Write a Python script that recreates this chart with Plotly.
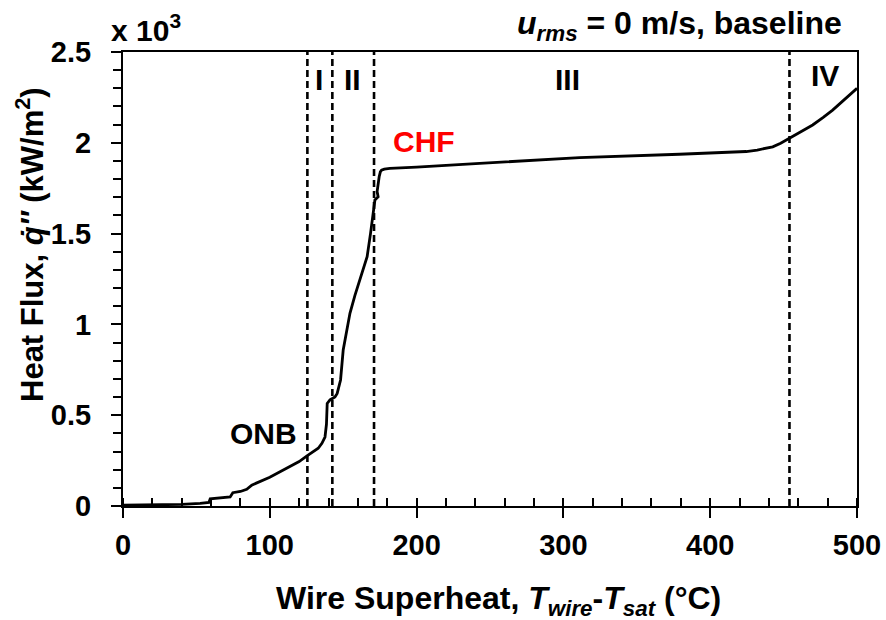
import plotly.graph_objects as go

# Boiling curve: wire superheat (°C) vs heat flux (x10^3 kW/m^2)
superheat = [0, 20, 40, 52.6, 58.5, 59.4, 66, 73, 74.8, 80, 84.3, 87.7,
             100, 110, 120, 125.1, 129, 133, 135.5, 137.6, 138.6, 139.1, 141,
             144.4, 145.9, 148.2, 150, 152.3, 154.6, 158, 161.4, 164, 166.3,
             168.6, 170, 170.9, 171.6, 173.8, 173.1, 174.5, 175.3, 176.1, 178,
             181.8, 200, 243, 311, 379, 400, 415, 424.5, 432, 438, 442.6, 448,
             454, 462, 469.8, 477, 483.4, 491, 500]
heat_flux = [0.004, 0.006, 0.009, 0.015, 0.02, 0.04, 0.045, 0.05, 0.073, 0.08,
             0.092, 0.115, 0.158, 0.2, 0.245, 0.275, 0.295, 0.318, 0.345, 0.38,
             0.45, 0.565, 0.584, 0.6, 0.62, 0.694, 0.859, 0.951, 1.061, 1.16,
             1.245, 1.31, 1.373, 1.5, 1.593, 1.648, 1.685, 1.703, 1.731, 1.813,
             1.84, 1.849, 1.855, 1.859, 1.866, 1.887, 1.918, 1.937, 1.942,
             1.947, 1.952, 1.96, 1.969, 1.978, 1.998, 2.025, 2.06, 2.098, 2.14,
             2.18, 2.235, 2.3]

# Regime boundaries (°C) and regime labels
boundaries = [125.6, 142.6, 171.0, 454.0]
regime_labels = ["I", "II", "III", "IV"]
regime_x = [133.6, 156.0, 303.0, 478.5]
regime_y = [2.346, 2.346, 2.346, 2.373]

x_ticks = [0, 100, 200, 300, 400, 500]
y_ticks = [0, 0.5, 1, 1.5, 2, 2.5]
y_tick_text = ["0", "0.5", "1", "1.5", "2", "2.5"]

FONT = "Liberation Sans, Arial, sans-serif"
BLACK = "#000000"

# plot-area geometry in pixels, used to place the free-standing labels
L, R, T, B = 123, 857, 52, 506


def px_x(p):
    return (p - L) / (R - L)


def px_y(p):
    return (B - p) / (B - T)


fig = go.Figure()

fig.add_trace(go.Scatter(
    x=superheat, y=heat_flux, mode="lines",
    line=dict(color=BLACK, width=2.8),
    showlegend=False, hoverinfo="skip",
))

for xb in boundaries:
    fig.add_shape(type="line", xref="x", yref="paper", x0=xb, x1=xb, y0=0, y1=1,
                  line=dict(color=BLACK, width=2.6, dash="7px,4px"), layer="above")

annotations = []
for lab, lx, ly in zip(regime_labels, regime_x, regime_y):
    annotations.append(dict(x=lx, y=ly, xref="x", yref="y", text=f"<b>{lab}</b>",
                            showarrow=False, font=dict(size=30, color=BLACK, family=FONT)))

annotations += [
    dict(x=205, y=2.006, xref="x", yref="y", text="<b>CHF</b>", showarrow=False,
         font=dict(size=30, color="#ff0000", family=FONT)),
    dict(x=96, y=0.40, xref="x", yref="y", text="<b>ONB</b>", showarrow=False,
         font=dict(size=30, color=BLACK, family=FONT)),
    dict(x=px_x(146), y=px_y(28), xref="paper", yref="paper",
         xanchor="center", yanchor="middle",
         text="<b>x 10<sup>3</sup></b>", showarrow=False,
         font=dict(size=30, color=BLACK, family=FONT)),
    dict(x=px_x(844), y=px_y(25), xref="paper", yref="paper",
         xanchor="right", yanchor="middle",
         text="<b><i>u<sub>rms</sub></i> = 0 m/s, baseline</b>",
         showarrow=False, font=dict(size=32, color=BLACK, family=FONT)),
    dict(x=px_x(498), y=px_y(600), xref="paper", yref="paper",
         xanchor="center", yanchor="middle",
         text="<b>Wire Superheat, <i>T<sub>wire</sub></i>-<i>T<sub>sat</sub></i> (°C)</b>",
         showarrow=False, font=dict(size=32, color=BLACK, family=FONT)),
    dict(x=px_x(30), y=px_y(245), xref="paper", yref="paper",
         xanchor="center", yanchor="middle", textangle=-90,
         text="<b>Heat Flux, <i>q\u0307\u2032\u2032</i> (kW/m<sup>2</sup>)</b>",
         showarrow=False, font=dict(size=31, color=BLACK, family=FONT)),
]

tick_style = dict(size=29, family=FONT, color=BLACK, weight="bold")

fig.update_layout(
    width=886, height=620,
    margin=dict(l=L, r=886 - R, t=T, b=620 - B, autoexpand=False),
    paper_bgcolor="white", plot_bgcolor="white",
    font=dict(family=FONT, color=BLACK),
    annotations=annotations,
    xaxis=dict(
        range=[0, 500], tickvals=x_ticks, ticks="outside", ticklen=10, tickwidth=2,
        tickcolor=BLACK, showline=True, linecolor=BLACK, linewidth=2, mirror=True,
        showgrid=False, zeroline=False, ticklabelstandoff=2, automargin=False,
        tickfont=tick_style,
        minor=dict(dtick=20, ticks="inside", ticklen=8, tickwidth=2, tickcolor=BLACK,
                   showgrid=False),
    ),
    # companion axis: inward half of the crossing major x ticks
    xaxis2=dict(
        overlaying="x", matches="x", side="bottom", range=[0, 500],
        tickvals=x_ticks, ticks="inside", ticklen=8, tickwidth=2, tickcolor=BLACK,
        showticklabels=False, showline=False, showgrid=False, zeroline=False,
        automargin=False,
    ),
    yaxis=dict(
        range=[0, 2.5], tickvals=y_ticks, ticktext=y_tick_text, ticks="outside",
        ticklen=10, tickwidth=2, tickcolor=BLACK, showline=True, linecolor=BLACK,
        linewidth=2, mirror=True, showgrid=False, zeroline=False, automargin=False,
        ticklabelstandoff=14,
        tickfont=tick_style,
        minor=dict(dtick=0.1, ticks="outside", ticklen=8, tickwidth=2, tickcolor=BLACK,
                   showgrid=False),
    ),
)

fig.write_html("out.html")
